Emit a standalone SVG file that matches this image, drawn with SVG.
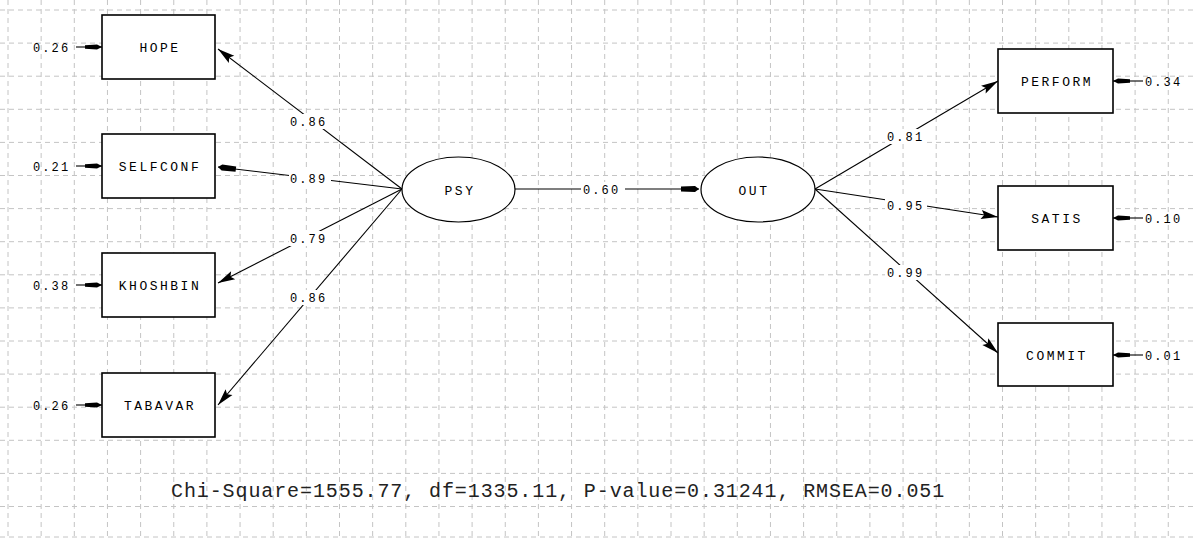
<svg xmlns="http://www.w3.org/2000/svg" width="1194" height="539" viewBox="0 0 1194 539">
<style>
.grid{stroke:#c4c4c4;stroke-width:1;stroke-dasharray:5,4;fill:none}
.box{fill:#fff;stroke:#000;stroke-width:1.6}
.ell{fill:#fff;stroke:#000;stroke-width:1.2}
.edge{stroke:#000;stroke-width:1.1;fill:none}
.lbl{font-family:"Liberation Mono","DejaVu Sans Mono",monospace;font-size:13px;letter-spacing:2.5px;fill:#000;text-anchor:middle}
.val{font-family:"Liberation Mono","DejaVu Sans Mono",monospace;font-size:12px;letter-spacing:2.1px;fill:#000}
.bg{fill:#fff}
.fit{font-family:"Liberation Mono","DejaVu Sans Mono",monospace;font-size:20px;letter-spacing:0.9px;fill:#222}
</style>
<defs>
<marker id="big" viewBox="-18 -6 20 12" refX="0" refY="0" markerWidth="20" markerHeight="12" markerUnits="userSpaceOnUse" orient="auto">
<path d="M0,0 L-17,-4.5 L-14,0 L-17,4.5 Z" fill="#000"/>
</marker>
<marker id="small" viewBox="-18 -4 20 8" refX="0" refY="0" markerWidth="20" markerHeight="8" markerUnits="userSpaceOnUse" orient="auto">
<path d="M0,0 L-5,-2.6 L-17,-1.8 L-17,1.8 L-5,2.6 Z" fill="#000"/>
</marker>
<marker id="mid" viewBox="-20 -4 22 8" refX="0" refY="0" markerWidth="22" markerHeight="8" markerUnits="userSpaceOnUse" orient="auto">
<path d="M0,0 L-4,-3 L-18,-2.6 L-18,2.6 L-4,3 Z" fill="#000"/>
</marker>
</defs>
<rect width="1194" height="539" fill="#fff"/>
<g id="grid">
<path class="grid" d="M0,10H1194M0,43.1H1194M0,76.2H1194M0,109.3H1194M0,142.4H1194M0,175.5H1194M0,208.6H1194M0,241.7H1194M0,274.8H1194M0,307.9H1194M0,341H1194M0,374.1H1194M0,407.2H1194M0,440.3H1194M0,473.4H1194M0,506.5H1194M0,537H1194"/>
<path class="grid" d="M8,0V539M41.15,0V539M74.3,0V539M107.45,0V539M140.6,0V539M173.75,0V539M206.9,0V539M240.05,0V539M273.2,0V539M306.35,0V539M339.5,0V539M372.65,0V539M405.8,0V539M438.95,0V539M472.1,0V539M505.25,0V539M538.4,0V539M571.55,0V539M604.7,0V539M637.85,0V539M671,0V539M704.15,0V539M737.3,0V539M770.45,0V539M803.6,0V539M836.75,0V539M869.9,0V539M903.05,0V539M936.2,0V539M969.35,0V539M1002.5,0V539M1035.65,0V539M1068.8,0V539M1101.95,0V539M1135.1,0V539M1168.25,0V539"/>
</g>
<g id="connectors">
<line class="edge" x1="402" y1="189" x2="218" y2="49" marker-end="url(#big)"/>
<line class="edge" x1="402" y1="189" x2="218" y2="167" marker-end="url(#mid)"/>
<line class="edge" x1="402" y1="189" x2="218" y2="283" marker-end="url(#big)"/>
<line class="edge" x1="402" y1="189" x2="218" y2="405" marker-end="url(#big)"/>
<line class="edge" x1="515" y1="189" x2="699" y2="189" marker-end="url(#mid)"/>
<line class="edge" x1="815" y1="189" x2="998" y2="81" marker-end="url(#big)"/>
<line class="edge" x1="815" y1="189" x2="998" y2="217" marker-end="url(#big)"/>
<line class="edge" x1="815" y1="189" x2="998" y2="353" marker-end="url(#big)"/>
<line class="edge" x1="76" y1="47" x2="102" y2="47" marker-end="url(#small)"/>
<line class="edge" x1="76" y1="166" x2="102" y2="166" marker-end="url(#small)"/>
<line class="edge" x1="76" y1="285" x2="102" y2="285" marker-end="url(#small)"/>
<line class="edge" x1="76" y1="405" x2="102" y2="405" marker-end="url(#small)"/>
<line class="edge" x1="1143" y1="81" x2="1113" y2="81" marker-end="url(#small)"/>
<line class="edge" x1="1143" y1="218" x2="1113" y2="218" marker-end="url(#small)"/>
<line class="edge" x1="1143" y1="355" x2="1113" y2="355" marker-end="url(#small)"/>
<rect class="bg" x="289" y="114" width="42" height="15"/>
<text class="val" x="290" y="126">0.86</text>
<rect class="bg" x="289" y="171" width="42" height="15"/>
<text class="val" x="290" y="183">0.89</text>
<rect class="bg" x="289" y="231" width="42" height="15"/>
<text class="val" x="290" y="243">0.79</text>
<rect class="bg" x="289" y="290" width="42" height="15"/>
<text class="val" x="290" y="302">0.86</text>
<rect class="bg" x="581" y="182" width="44" height="15"/>
<text class="val" x="583" y="194">0.60</text>
<rect class="bg" x="885" y="129" width="42" height="15"/>
<text class="val" x="887" y="141">0.81</text>
<rect class="bg" x="885" y="198" width="42" height="15"/>
<text class="val" x="887" y="210">0.95</text>
<rect class="bg" x="885" y="265" width="42" height="15"/>
<text class="val" x="887" y="277">0.99</text>
</g>
<g id="e_hope"><text class="val" x="33" y="52">0.26</text></g>
<g id="e_selfconf"><text class="val" x="33" y="171">0.21</text></g>
<g id="e_khoshbin"><text class="val" x="33" y="290">0.38</text></g>
<g id="e_tabavar"><text class="val" x="33" y="410">0.26</text></g>
<g id="e_perform"><text class="val" x="1145" y="86">0.34</text></g>
<g id="e_satis"><text class="val" x="1145" y="223">0.10</text></g>
<g id="e_commit"><text class="val" x="1145" y="360">0.01</text></g>
<g id="HOPE"><rect class="box" x="102" y="15" width="113" height="64"/><text class="lbl" x="160" y="52">HOPE</text></g>
<g id="SELFCONF"><rect class="box" x="102" y="134" width="113" height="64"/><text class="lbl" x="160" y="171">SELFCONF</text></g>
<g id="KHOSHBIN"><rect class="box" x="102" y="253" width="113" height="64"/><text class="lbl" x="160" y="290">KHOSHBIN</text></g>
<g id="TABAVAR"><rect class="box" x="102" y="373" width="113" height="64"/><text class="lbl" x="160" y="410">TABAVAR</text></g>
<g id="PSY"><ellipse class="ell" cx="458.5" cy="189.5" rx="56.5" ry="32.5"/><text class="lbl" x="460" y="194.5">PSY</text></g>
<g id="OUT"><ellipse class="ell" cx="758" cy="189.5" rx="57" ry="32.5"/><text class="lbl" x="754" y="194.5">OUT</text></g>
<g id="PERFORM"><rect class="box" x="998" y="49" width="115" height="64"/><text class="lbl" x="1057" y="86">PERFORM</text></g>
<g id="SATIS"><rect class="box" x="998" y="186" width="115" height="64"/><text class="lbl" x="1057" y="223">SATIS</text></g>
<g id="COMMIT"><rect class="box" x="998" y="323" width="115" height="63"/><text class="lbl" x="1057" y="360">COMMIT</text></g>
<g id="fit"><text class="fit" x="171" y="497">Chi-Square=1555.77, df=1335.11, P-value=0.31241, RMSEA=0.051</text></g>
</svg>
